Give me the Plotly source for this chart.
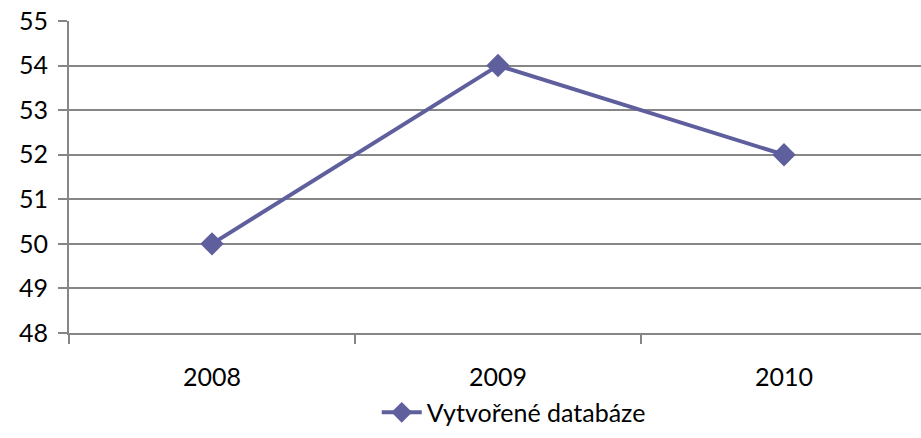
import plotly.graph_objects as go

years = ["2008", "2009", "2010"]
values = [50, 54, 52]
series_name = "Vytvořené databáze"

LINE_COLOR = "#5F5F9E"
GRID_COLOR = "#868686"
FONT = "Lato, 'Open Sans', sans-serif"

fig = go.Figure()

fig.add_trace(
    go.Scatter(
        x=years,
        y=values,
        mode="lines+markers",
        name=series_name,
        line=dict(color=LINE_COLOR, width=4),
        marker=dict(symbol="diamond", size=18, color=LINE_COLOR),
    )
)

fig.update_layout(
    width=921,
    height=438,
    margin=dict(l=69, r=0, t=21, b=105),
    paper_bgcolor="white",
    plot_bgcolor="white",
    font=dict(family=FONT, size=25, color="black"),
    showlegend=True,
    legend=dict(
        orientation="h",
        x=0.522,
        xanchor="center",
        y=-0.255,
        yanchor="middle",
        font=dict(size=25),
        itemwidth=40,
    ),
    xaxis=dict(
        type="category",
        range=[-0.5, -0.5 + 852 / 286],
        automargin=False,
        showgrid=False,
        showline=True,
        linecolor=GRID_COLOR,
        linewidth=2,
        ticks="outside",
        ticklen=9,
        tickwidth=2,
        tickcolor=GRID_COLOR,
        tickson="boundaries",
        ticklabelstandoff=21,
        zeroline=False,
        fixedrange=True,
    ),
    yaxis=dict(
        range=[48, 55],
        dtick=1,
        automargin=False,
        showgrid=True,
        gridcolor=GRID_COLOR,
        gridwidth=2,
        showline=True,
        linecolor=GRID_COLOR,
        linewidth=2,
        ticks="outside",
        ticklen=9,
        tickwidth=2,
        tickcolor=GRID_COLOR,
        ticklabelstandoff=5,
        zeroline=False,
        fixedrange=True,
    ),
)

# drop the default 8px body margin so the figure sits flush in the window
fig.write_html(
    "out.html",
    config={"displayModeBar": False},
    post_script="document.body.style.margin='0';document.body.style.overflow='hidden';",
)
